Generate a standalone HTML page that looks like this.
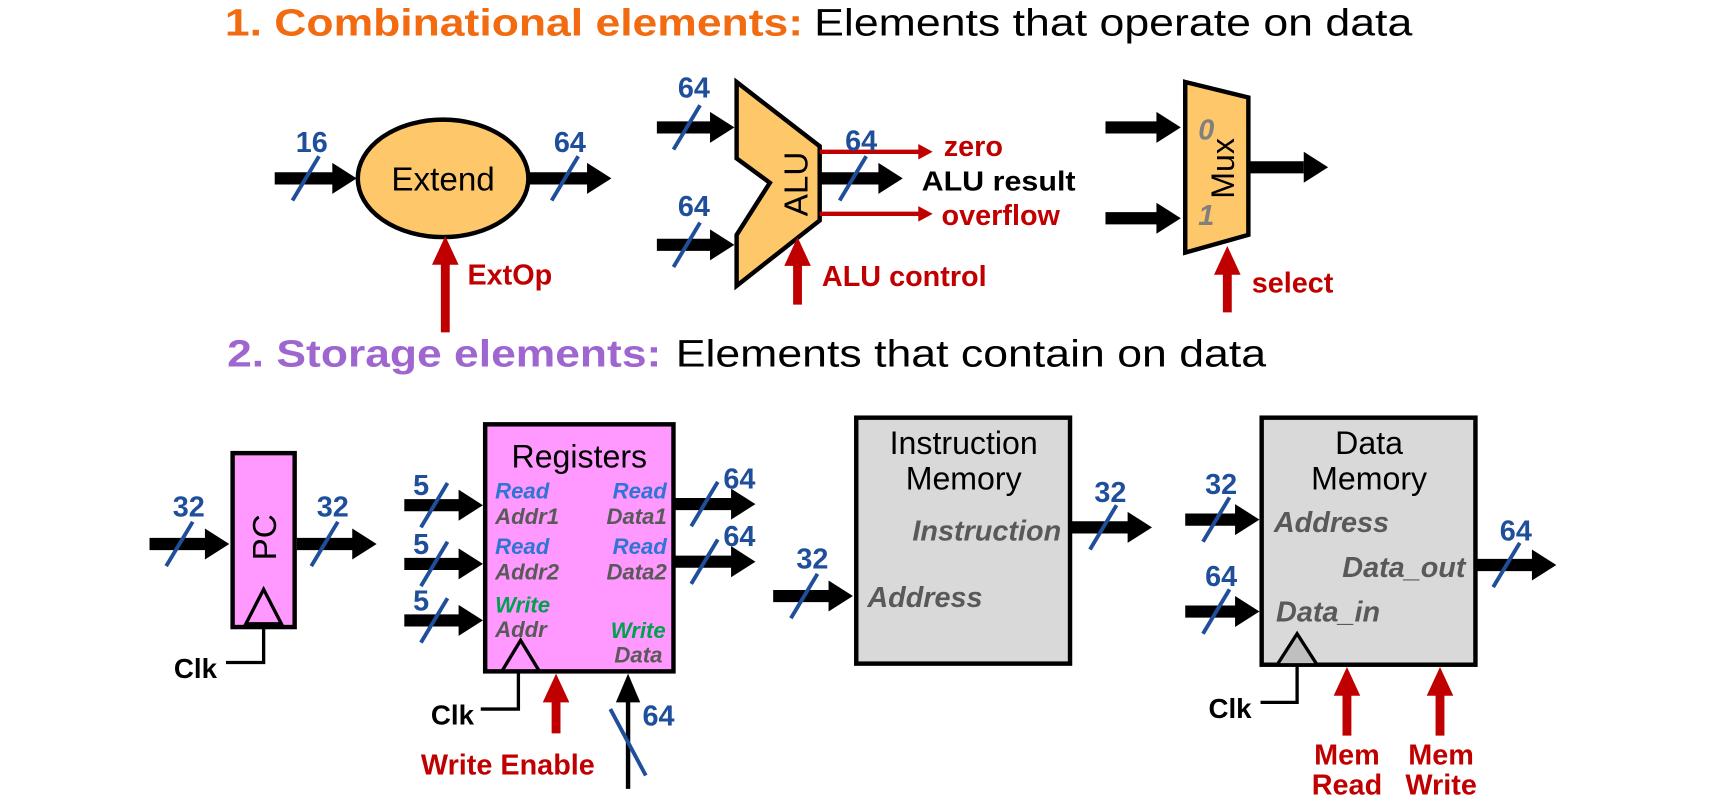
<!DOCTYPE html>
<html><head><meta charset="utf-8"><style>
html,body{margin:0;padding:0;background:#fff;}
svg{display:block}
text{font-family:"Liberation Sans",sans-serif;}
.b{font-weight:bold}
.n{fill:#1F4E9A;font-weight:bold;font-size:26px}
.r{fill:#C00000;font-weight:bold;font-size:26px}
.gi{fill:#595959;font-weight:bold;font-style:italic;font-size:26px}
.bl{fill:#2E75D6;font-weight:bold;font-style:italic;font-size:20px}
.gr{fill:#00A050;font-weight:bold;font-style:italic;font-size:20px}
.g2{fill:#595959;font-weight:bold;font-style:italic;font-size:20px}
</style></head><body>
<svg width="1728" height="801" viewBox="0 0 1560 723" preserveAspectRatio="none" xmlns="http://www.w3.org/2000/svg">
<defs>
<g id="ah"><polygon points="-22,-14 0,0 -22,14" fill="#000"/></g>
<g id="sl"><line x1="-12" y1="20" x2="12" y2="-20" stroke="#1F4E9A" stroke-width="3.5"/></g>
<g id="ru"><polygon points="-12,26 0,0 12,26" fill="#C00000"/></g>
<g id="rr"><polygon points="-13,-7 0,0 -13,7" fill="#C00000"/></g>
</defs>

<!-- Titles -->
<text x="203" y="32" font-size="34" class="b" fill="#F26B10" textLength="522" lengthAdjust="spacingAndGlyphs">1.   Combinational elements:</text>
<text x="735" y="32" font-size="34" fill="#000" textLength="540" lengthAdjust="spacingAndGlyphs">Elements that operate on data</text>
<text x="205" y="331" font-size="34" class="b" fill="#A066D0" textLength="392" lengthAdjust="spacingAndGlyphs">2.   Storage elements:</text>
<text x="610" y="331" font-size="34" fill="#000" textLength="533" lengthAdjust="spacingAndGlyphs">Elements that contain on data</text>

<!-- Extend -->
<line x1="248" y1="161" x2="302" y2="161" stroke="#000" stroke-width="11"/><use href="#ah" x="322" y="161"/>
<use href="#sl" x="276" y="161"/><text x="267" y="137" class="n">16</text>
<ellipse cx="400" cy="161" rx="77" ry="53" fill="#FDC76A" stroke="#000" stroke-width="4"/>
<text x="400" y="172" font-size="30" text-anchor="middle">Extend</text>
<line x1="478" y1="161" x2="532" y2="161" stroke="#000" stroke-width="11"/><use href="#ah" x="552" y="161"/>
<use href="#sl" x="510" y="161"/><text x="500" y="137" class="n">64</text>
<line x1="402" y1="300" x2="402" y2="235" stroke="#C00000" stroke-width="8"/><use href="#ru" x="402" y="213"/>
<text x="422" y="257" class="r">ExtOp</text>

<!-- ALU -->
<line x1="593" y1="115" x2="643" y2="115" stroke="#000" stroke-width="11"/><use href="#ah" x="663" y="115"/>
<use href="#sl" x="620" y="115"/><text x="612" y="88" class="n">64</text>
<line x1="593" y1="221" x2="643" y2="221" stroke="#000" stroke-width="11"/><use href="#ah" x="663" y="221"/>
<use href="#sl" x="620" y="221"/><text x="612" y="195" class="n">64</text>
<polygon points="665,74 740,132 740,199 665,258 665,212 695,165 665,143" fill="#FDC76A" stroke="#000" stroke-width="4"/>
<text transform="translate(729,166) rotate(-90)" font-size="30" text-anchor="middle">ALU</text>
<line x1="740" y1="137" x2="830" y2="137" stroke="#C00000" stroke-width="4"/><use href="#rr" x="842" y="137"/>
<text x="852" y="141" class="r">zero</text>
<line x1="740" y1="161" x2="795" y2="161" stroke="#000" stroke-width="11"/><use href="#ah" x="815" y="161"/>
<use href="#sl" x="770" y="161"/><text x="763" y="136" class="n">64</text>
<text x="832" y="172" font-size="25" class="b" textLength="139" lengthAdjust="spacingAndGlyphs">ALU result</text>
<line x1="740" y1="193" x2="830" y2="193" stroke="#C00000" stroke-width="4"/><use href="#rr" x="842" y="193"/>
<text x="850" y="203" class="r">overflow</text>
<line x1="720" y1="275" x2="720" y2="238" stroke="#C00000" stroke-width="8"/><use href="#ru" x="720" y="214"/>
<text x="742" y="258" class="r">ALU control</text>

<!-- Mux -->
<line x1="998" y1="115" x2="1046" y2="115" stroke="#000" stroke-width="11"/><use href="#ah" x="1066" y="115"/>
<line x1="998" y1="197" x2="1046" y2="197" stroke="#000" stroke-width="11"/><use href="#ah" x="1066" y="197"/>
<polygon points="1070,74 1127,88 1127,212 1070,228" fill="#FDC76A" stroke="#000" stroke-width="4"/>
<text x="1089" y="126" font-size="26" fill="#808080" class="b" font-style="italic" text-anchor="middle">0</text>
<text x="1089" y="203" font-size="26" fill="#808080" class="b" font-style="italic" text-anchor="middle">1</text>
<text transform="translate(1114,152) rotate(-90)" font-size="29" text-anchor="middle">Mux</text>
<line x1="1127" y1="151" x2="1177" y2="151" stroke="#000" stroke-width="11"/><use href="#ah" x="1199" y="151"/>
<line x1="1108" y1="282" x2="1108" y2="245" stroke="#C00000" stroke-width="8"/><use href="#ru" x="1108" y="222"/>
<text x="1130" y="264" class="r">select</text>

<!-- PC -->
<line x1="135" y1="491" x2="187" y2="491" stroke="#000" stroke-width="11"/><use href="#ah" x="207" y="491"/>
<use href="#sl" x="162" y="491"/><text x="156" y="466" class="n">32</text>
<rect x="210" y="409" width="56" height="157" fill="#FF99FF" stroke="#000" stroke-width="4"/>
<text transform="translate(249,485) rotate(-90)" font-size="30" text-anchor="middle">PC</text>
<polygon points="222,563 238,532 254,563" fill="none" stroke="#000" stroke-width="3"/>
<line x1="268" y1="491" x2="320" y2="491" stroke="#000" stroke-width="11"/><use href="#ah" x="340" y="491"/>
<use href="#sl" x="293" y="491"/><text x="286" y="466" class="n">32</text>
<polyline points="238,566 238,598 204,598" fill="none" stroke="#000" stroke-width="3"/>
<text x="157" y="612" font-size="25" class="b">Clk</text>

<!-- Registers -->
<rect x="438" y="383" width="170" height="223" fill="#FF99FF" stroke="#000" stroke-width="4"/>
<text x="523" y="422" font-size="29" text-anchor="middle">Registers</text>
<text x="447" y="450" class="bl">Read</text><text x="447" y="473" class="g2">Addr1</text>
<text x="602" y="450" class="bl" text-anchor="end">Read</text><text x="602" y="473" class="g2" text-anchor="end">Data1</text>
<text x="447" y="500" class="bl">Read</text><text x="447" y="523" class="g2">Addr2</text>
<text x="602" y="500" class="bl" text-anchor="end">Read</text><text x="602" y="523" class="g2" text-anchor="end">Data2</text>
<text x="447" y="553" class="gr">Write</text><text x="447" y="575" class="g2">Addr</text>
<text x="601" y="576" class="gr" text-anchor="end">Write</text><text x="598" y="598" class="g2" text-anchor="end">Data</text>
<polygon points="453,606 470,578 487,606" fill="none" stroke="#000" stroke-width="3"/>
<line x1="365" y1="456" x2="416" y2="456" stroke="#000" stroke-width="11"/><use href="#ah" x="436" y="456"/>
<use href="#sl" x="392" y="456"/><text x="373" y="447" class="n">5</text>
<line x1="365" y1="509" x2="416" y2="509" stroke="#000" stroke-width="11"/><use href="#ah" x="436" y="509"/>
<use href="#sl" x="392" y="509"/><text x="373" y="500" class="n">5</text>
<line x1="365" y1="560" x2="416" y2="560" stroke="#000" stroke-width="11"/><use href="#ah" x="436" y="560"/>
<use href="#sl" x="392" y="560"/><text x="373" y="551" class="n">5</text>
<line x1="608" y1="455" x2="662" y2="455" stroke="#000" stroke-width="11"/><use href="#ah" x="682" y="455"/>
<use href="#sl" x="636" y="455"/><text x="653" y="441" class="n">64</text>
<line x1="608" y1="507" x2="662" y2="507" stroke="#000" stroke-width="11"/><use href="#ah" x="682" y="507"/>
<use href="#sl" x="636" y="507"/><text x="653" y="493" class="n">64</text>
<polyline points="468,606 468,640 434,640" fill="none" stroke="#000" stroke-width="3"/>
<text x="389" y="654" font-size="25" class="b">Clk</text>
<line x1="502" y1="662" x2="502" y2="632" stroke="#C00000" stroke-width="8"/><use href="#ru" x="502" y="608"/>
<text x="380" y="699" class="r">Write Enable</text>
<line x1="567" y1="712" x2="567" y2="630" stroke="#000" stroke-width="4"/><polygon points="556,634 567,608 578,634" fill="#000"/>
<line x1="551" y1="640" x2="583" y2="700" stroke="#1F4E9A" stroke-width="3.5"/>
<text x="580" y="655" class="n">64</text>

<!-- Instruction Memory -->
<rect x="773" y="377" width="193" height="222" fill="#D9D9D9" stroke="#000" stroke-width="4"/>
<text x="870" y="410" font-size="29" text-anchor="middle">Instruction</text>
<text x="870" y="442" font-size="29" text-anchor="middle">Memory</text>
<text x="958" y="488" class="gi" text-anchor="end">Instruction</text>
<text x="783" y="548" class="gi">Address</text>
<line x1="698" y1="538" x2="750" y2="538" stroke="#000" stroke-width="11"/><use href="#ah" x="770" y="538"/>
<use href="#sl" x="726" y="538"/><text x="719" y="513" class="n">32</text>
<line x1="967" y1="476" x2="1020" y2="476" stroke="#000" stroke-width="11"/><use href="#ah" x="1040" y="476"/>
<use href="#sl" x="996" y="476"/><text x="988" y="453" class="n">32</text>

<!-- Data Memory -->
<rect x="1139" y="377" width="193" height="223" fill="#D9D9D9" stroke="#000" stroke-width="4"/>
<text x="1236" y="410" font-size="29" text-anchor="middle">Data</text>
<text x="1236" y="442" font-size="29" text-anchor="middle">Memory</text>
<text x="1150" y="480" class="gi">Address</text>
<text x="1323" y="521" class="gi" text-anchor="end">Data_out</text>
<text x="1152" y="561" class="gi">Data_in</text>
<line x1="1070" y1="469" x2="1117" y2="469" stroke="#000" stroke-width="11"/><use href="#ah" x="1137" y="469"/>
<use href="#sl" x="1098" y="469"/><text x="1088" y="446" class="n">32</text>
<line x1="1070" y1="552" x2="1117" y2="552" stroke="#000" stroke-width="11"/><use href="#ah" x="1137" y="552"/>
<use href="#sl" x="1098" y="552"/><text x="1088" y="529" class="n">64</text>
<line x1="1332" y1="510" x2="1385" y2="510" stroke="#000" stroke-width="11"/><use href="#ah" x="1405" y="510"/>
<use href="#sl" x="1360" y="510"/><text x="1354" y="488" class="n">64</text>
<polygon points="1153,600 1171,572 1189,600" fill="#BFBFBF" stroke="#000" stroke-width="3"/>
<polyline points="1171,600 1171,634 1138,634" fill="none" stroke="#000" stroke-width="3"/>
<text x="1091" y="648" font-size="25" class="b">Clk</text>
<line x1="1216" y1="664" x2="1216" y2="626" stroke="#C00000" stroke-width="8"/><use href="#ru" x="1216" y="602"/>
<line x1="1300" y1="664" x2="1300" y2="626" stroke="#C00000" stroke-width="8"/><use href="#ru" x="1300" y="602"/>
<text x="1216" y="690" class="r" text-anchor="middle">Mem</text><text x="1216" y="717" class="r" text-anchor="middle">Read</text>
<text x="1301" y="690" class="r" text-anchor="middle">Mem</text><text x="1301" y="717" class="r" text-anchor="middle">Write</text>
</svg>
</body></html>
